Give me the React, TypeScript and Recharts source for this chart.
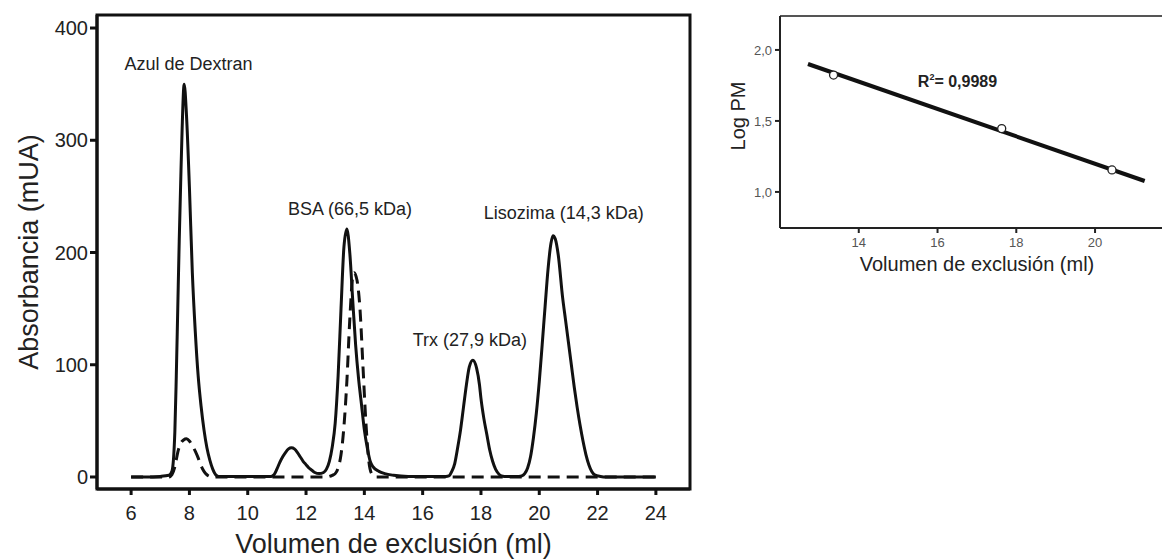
import {
  ComposedChart,
  Line,
  ReferenceArea,
  ReferenceLine,
  Scatter,
  XAxis,
  YAxis,
} from 'recharts';

// chromatogram, [ml, mUA]
const solidTrace: [number, number][] = [
  [6.0, 0], [6.5, 0], [7.0, 0.5], [7.3, 1.5], [7.4, 5], [7.5, 40], [7.55, 90],
  [7.6, 150], [7.65, 210], [7.7, 262], [7.75, 310], [7.82, 350], [7.9, 322],
  [8.0, 258], [8.1, 182], [8.2, 130], [8.3, 90], [8.4, 63], [8.5, 42], [8.6, 26],
  [8.7, 15], [8.8, 7], [8.9, 2], [9.0, 0.5], [10.8, 0.5], [10.9, 2], [11.0, 7],
  [11.1, 13], [11.2, 18], [11.3, 22], [11.4, 25], [11.5, 26], [11.6, 25],
  [11.7, 22], [11.8, 18], [11.9, 14], [12.0, 11], [12.1, 8], [12.2, 6], [12.3, 4],
  [12.45, 3], [12.6, 4], [12.7, 7], [12.8, 14], [12.9, 27], [13.0, 48], [13.1, 90],
  [13.2, 150], [13.3, 205], [13.4, 221], [13.5, 200], [13.6, 158], [13.7, 118],
  [13.8, 88], [13.9, 65], [14.0, 42], [14.1, 26], [14.2, 14], [14.3, 9], [14.5, 5],
  [14.7, 3], [15.0, 1.5], [15.5, 0.5], [16.8, 0.5], [16.9, 1], [17.0, 5],
  [17.1, 12], [17.2, 26], [17.3, 42], [17.4, 62], [17.5, 82], [17.6, 98],
  [17.72, 104], [17.85, 97], [17.95, 82], [18.0, 70], [18.1, 52], [18.2, 38],
  [18.3, 24], [18.4, 14], [18.5, 7], [18.6, 3], [18.7, 1], [18.8, 0.5],
  [19.3, 0.5], [19.4, 1], [19.5, 3], [19.6, 8], [19.7, 18], [19.8, 35], [19.9, 57],
  [20.0, 85], [20.1, 118], [20.2, 152], [20.3, 185], [20.4, 208], [20.47, 215],
  [20.55, 212], [20.65, 198], [20.8, 160], [20.9, 140], [21.0, 120], [21.1, 100],
  [21.2, 80], [21.3, 62], [21.4, 46], [21.5, 32], [21.6, 20], [21.7, 11],
  [21.8, 5], [21.9, 2], [22.1, 0.5], [22.3, 0], [24.0, 0],
];

const dashedTrace: [number, number][] = [
  [6.0, 0], [7.3, 0], [7.4, 2], [7.5, 9], [7.6, 22], [7.7, 30], [7.8, 33],
  [7.9, 34], [8.0, 32], [8.1, 28], [8.2, 23], [8.3, 17], [8.4, 10], [8.5, 5],
  [8.6, 2], [8.7, 0.5], [8.9, 0], [12.7, 0], [12.8, 0.5], [12.9, 1.5], [13.0, 3],
  [13.1, 8], [13.2, 20], [13.3, 45], [13.4, 85], [13.5, 140], [13.6, 178],
  [13.65, 182], [13.75, 175], [13.85, 150], [13.95, 100], [14.05, 50],
  [14.15, 15], [14.25, 3], [14.4, 0], [24.0, 0],
];

const peakLabels = [
  { x: 7.97, y: 363, text: 'Azul de Dextran' },
  { x: 13.51, y: 233, text: 'BSA (66,5 kDa)' },
  { x: 17.62, y: 117, text: 'Trx (27,9 kDa)' },
  { x: 20.84, y: 230, text: 'Lisozima (14,3 kDa)' },
];

const mainXTicks = [6, 8, 10, 12, 14, 16, 18, 20, 22, 24];
const mainYTicks = [0, 100, 200, 300, 400];

// calibration inset
const standards = [
  { x: 13.36, y: 1.823 },
  { x: 17.63, y: 1.446 },
  { x: 20.43, y: 1.155 },
];
const fitLine = [
  { x: 12.71, y: 1.901 },
  { x: 21.26, y: 1.077 },
];
const r2Label = [{ x: 15.5, y: 1.739, text: '0,9989' }];
const insetXTicks = [14, 16, 18, 20];
const insetYTicks = [1.0, 1.5, 2.0];

const font = '"Liberation Sans", Arial, Helvetica, sans-serif';
const toPoints = (arr: [number, number][]) => arr.map(([x, y]) => ({ x, y }));

const PeakText = (props: any) => (
  <text
    x={props.cx}
    y={props.cy}
    textAnchor="middle"
    fontFamily={font}
    fontSize={18}
    fill="#222"
  >
    {props.payload.text}
  </text>
);

const R2Text = (props: any) => (
  <text x={props.cx} y={props.cy} fontFamily={font} fontSize={16} fontWeight="bold" fill="#222">
    R<tspan fontSize={9} dy={-7}>2</tspan>
    <tspan dy={7}>= {props.payload.text}</tspan>
  </text>
);

const OpenCircle = (props: any) => (
  <circle cx={props.cx} cy={props.cy} r={4} fill="#fff" stroke="#222" strokeWidth={1.3} />
);

function Chromatogram() {
  return (
    <ComposedChart
      width={700}
      height={559}
      margin={{ top: 15, right: 10, left: 0, bottom: 0 }}
    >
      <XAxis
        dataKey="x"
        type="number"
        domain={[4.83, 25.17]}
        allowDataOverflow
        ticks={mainXTicks}
        tick={{ fontSize: 20, fontFamily: font, fill: '#222' }}
        tickSize={6}
        tickMargin={11}
        height={70}
        stroke="#111"
        strokeWidth={3}
        label={{
          value: 'Volumen de exclusión (ml)',
          position: 'center',
          dy: 19,
          fontSize: 27,
          fontFamily: font,
          fill: '#222',
        }}
      />
      <YAxis
        dataKey="y"
        type="number"
        domain={[-10.7, 411.6]}
        allowDataOverflow
        ticks={mainYTicks}
        tick={{ fontSize: 20, fontFamily: font, fill: '#222' }}
        tickSize={7}
        tickMargin={2}
        width={97}
        stroke="#111"
        strokeWidth={3}
        label={{
          value: 'Absorbancia (mUA)',
          angle: -90,
          position: 'center',
          dx: -20,
          fontSize: 27,
          fontFamily: font,
          fill: '#222',
        }}
      />
      <ReferenceArea
        x1={4.83}
        x2={25.17}
        y1={-10.7}
        y2={411.6}
        fill="none"
        stroke="#111"
        strokeWidth={3}
        ifOverflow="visible"
      />
      <Line
        data={toPoints(dashedTrace)}
        dataKey="y"
        type="monotone"
        stroke="#111"
        strokeWidth={3}
        strokeDasharray="12 7"
        dot={false}
        isAnimationActive={false}
      />
      <Line
        data={toPoints(solidTrace)}
        dataKey="y"
        type="monotone"
        stroke="#111"
        strokeWidth={3}
        dot={false}
        isAnimationActive={false}
      />
      <Scatter data={peakLabels} dataKey="y" shape={PeakText} isAnimationActive={false} />
    </ComposedChart>
  );
}

function Calibration() {
  return (
    <ComposedChart
      width={462}
      height={290}
      margin={{ top: 16, right: 0, left: 0, bottom: 0 }}
    >
      <XAxis
        dataKey="x"
        type="number"
        domain={[12, 21.7]}
        allowDataOverflow
        ticks={insetXTicks}
        tick={{ fontSize: 13, fontFamily: font, fill: '#555' }}
        tickSize={5}
        tickMargin={5}
        height={62}
        stroke="#222"
        strokeWidth={2}
        label={{
          value: 'Volumen de exclusión (ml)',
          position: 'center',
          dx: 6,
          dy: 5,
          fontSize: 20,
          fontFamily: font,
          fill: '#222',
        }}
      />
      <YAxis
        dataKey="y"
        type="number"
        domain={[0.746, 2.239]}
        allowDataOverflow
        ticks={insetYTicks}
        tickFormatter={(v: number) => v.toFixed(1).replace('.', ',')}
        tick={{ fontSize: 13, fontFamily: font, fill: '#555' }}
        tickSize={5}
        tickMargin={3}
        width={80}
        stroke="#222"
        strokeWidth={2}
        label={{
          value: 'Log PM',
          angle: -90,
          position: 'center',
          dx: -2,
          dy: -6,
          fontSize: 20,
          fontFamily: font,
          fill: '#222',
        }}
      />
      <ReferenceLine y={2.239} stroke="#555" strokeWidth={2} ifOverflow="visible" />
      <Scatter data={standards} dataKey="y" shape={OpenCircle} isAnimationActive={false} />
      <Line
        data={fitLine}
        dataKey="y"
        type="linear"
        stroke="#111"
        strokeWidth={4}
        dot={false}
        isAnimationActive={false}
      />
      <Scatter data={r2Label} dataKey="y" shape={R2Text} isAnimationActive={false} />
    </ComposedChart>
  );
}

export default function App() {
  return (
    <div
      style={{
        position: 'absolute',
        left: 0,
        top: 0,
        width: 1162,
        height: 559,
        overflow: 'hidden',
        background: '#fff',
      }}
    >
      <style>{'html, body { margin: 0; overflow: hidden; }'}</style>
      <div style={{ position: 'absolute', left: 0, top: 0 }}>
        <Chromatogram />
      </div>
      <div style={{ position: 'absolute', left: 700, top: 0 }}>
        <Calibration />
      </div>
    </div>
  );
}
